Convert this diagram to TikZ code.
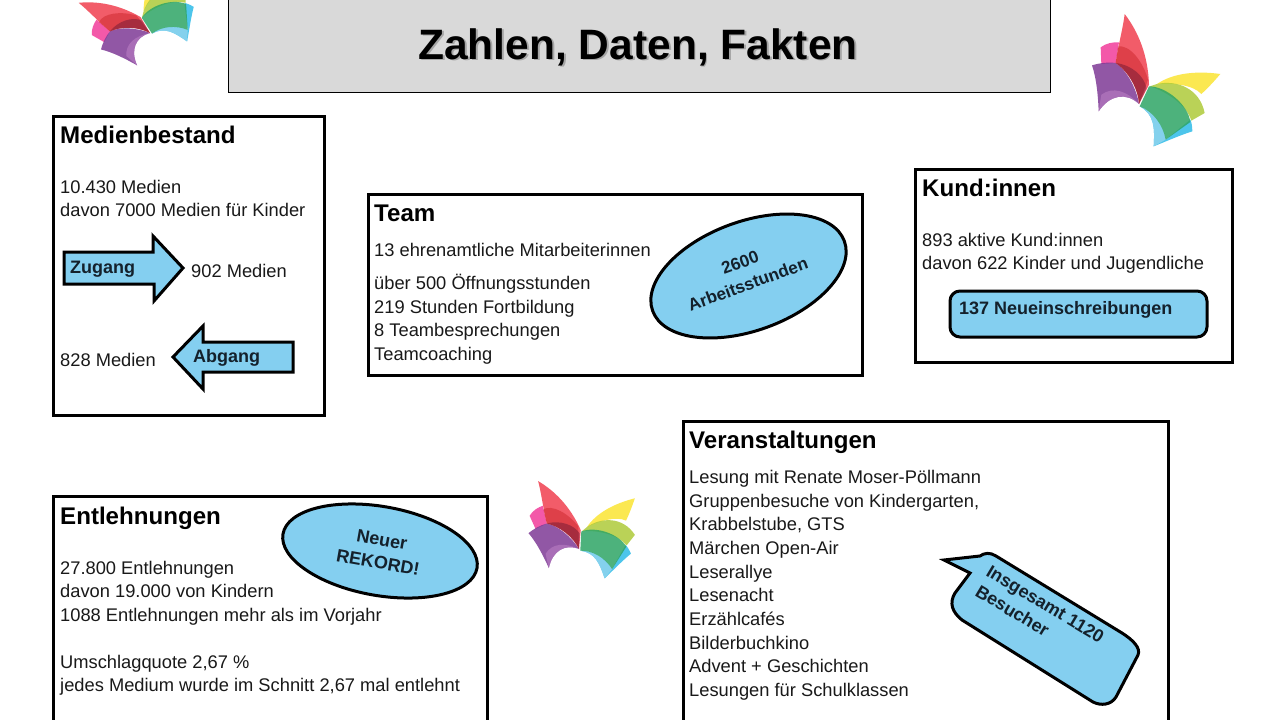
\documentclass[tikz,border=0pt]{standalone}
\usepackage{fontspec}
\setmainfont{Liberation Sans}
\usetikzlibrary{shapes.geometric}
\definecolor{skyfill}{HTML}{84CFF0}
\definecolor{inktext}{HTML}{14212C}
\definecolor{titlegray}{HTML}{D9D9D9}
\definecolor{wred}{HTML}{F0404F}
\definecolor{wpink}{HTML}{F23C9A}
\definecolor{wpurple}{HTML}{7E3A96}
\definecolor{wplum}{HTML}{B277BE}
\definecolor{wyellow}{HTML}{FBE533}
\definecolor{wolive}{HTML}{AFCB3A}
\definecolor{wgreen}{HTML}{2FA566}
\definecolor{wblue}{HTML}{2FBCE8}
\definecolor{wsky}{HTML}{8AD3EE}
\tikzset{
  panel/.style={draw=black,line width=3pt,fill=white},
  bluebox/.style={draw=black,line width=3pt,fill=skyfill,line join=round},
  body/.style={anchor=base west,inner sep=0pt,font=\fontsize{18.3}{22}\selectfont,text=black!90},
  heading/.style={anchor=base west,inner sep=0pt,font=\fontsize{24.1}{28}\bfseries\selectfont,text=black},
  badge/.style={inner sep=0pt,font=\fontsize{18}{23}\bfseries\selectfont,text=inktext},
  wing/.style={draw=none,fill opacity=0.85}
}
\newcommand{\bflypaths}{%
  \fill[wing,fill=wpink] (63,128) .. controls (80,115) and (100,112) .. (118,113) -- (108,175) -- (65,178) -- cycle;
  \fill[wing,fill=wpurple] (37,182) .. controls (60,175) and (85,172) .. (108,175) .. controls (140,195) and (170,250) .. (178,298) .. controls (140,262) and (90,270) .. (57,320) .. controls (55,270) and (50,220) .. (37,182) -- cycle;
  \fill[wing,fill=wred] (135,28) .. controls (175,80) and (205,150) .. (208,240) -- (178,298) .. controls (175,250) and (145,200) .. (108,175) .. controls (115,125) and (130,70) .. (135,28) -- cycle;
  \fill[fill=red!70!black,fill opacity=0.3] (115,125) .. controls (150,120) and (190,170) .. (205,225) -- (178,298) .. controls (175,250) and (145,200) .. (108,175) -- cycle;
  \fill[fill=black!70!violet,fill opacity=0.3] (108,175) .. controls (155,180) and (195,215) .. (200,250) -- (178,298) .. controls (175,250) and (145,200) .. (108,175) -- cycle;
  \fill[fill=wplum,fill opacity=0.75] (65,270) .. controls (100,245) and (140,258) .. (178,298) .. controls (140,262) and (90,270) .. (57,320) -- cycle;
  \fill[wing,fill=wyellow] (422,208) .. controls (350,198) and (280,205) .. (232,238) .. controls (280,235) and (340,240) .. (365,268) .. controls (385,250) and (405,228) .. (422,208) -- cycle;
  \fill[wing,fill=wolive] (232,238) .. controls (290,225) and (360,250) .. (375,325) -- (335,348) .. controls (320,300) and (260,260) .. (210,245) -- cycle;
  \fill[wing,fill=wblue] (180,305) .. controls (225,330) and (225,370) .. (222,425) .. controls (260,410) and (300,392) .. (338,380) .. controls (338,365) and (335,350) .. (332,345) -- (258,405) .. controls (250,360) and (220,320) .. (180,305) -- cycle;
  \fill[fill=wsky,fill opacity=0.9] (180,305) .. controls (225,330) and (225,370) .. (222,425) -- (258,405) .. controls (250,360) and (220,320) .. (180,305) -- cycle;
  \fill[wing,fill=wgreen] (208,245) .. controls (260,245) and (325,300) .. (332,352) -- (258,405) .. controls (250,360) and (220,320) .. (180,305) -- cycle;
}
\newcommand{\bfly}[3]{%
  \begin{scope}[shift={#1},rotate=#2,scale=#3/3]
    \begin{scope}[shift={(-178,-298)}]\bflypaths\end{scope}
  \end{scope}}
\begin{document}
\begin{tikzpicture}[x=1pt,y=-1pt]
\useasboundingbox (0,0) rectangle (1280,720);
\clip (0,0) rectangle (1280,720);
\fill[white] (0,0) rectangle (1280,720);

% title
\draw[fill=titlegray,draw=black,line width=1pt] (228.5,-3) rectangle (1050,92.5);
\node[inner sep=0pt,anchor=base,font=\fontsize{42.5}{48}\bfseries\selectfont] (title) at (638,59)
  {\rlap{\raisebox{-1.8pt}{\hspace{1.8pt}\color{black!35}Zahlen, Daten, Fakten}}Zahlen, Daten, Fakten};

% butterflies
\bfly{(150,33)}{58}{0.85}
\bfly{(1139,104)}{0}{1}
\bfly{(579,549)}{22}{0.87}

% panels
\draw[panel] (53,116) rectangle (324.5,415);
\draw[panel] (368,194) rectangle (862.5,375);
\draw[panel] (915,169) rectangle (1232,362);
\draw[panel] (53,496) rectangle (487,735);
\draw[panel] (683,421) rectangle (1168,735);

% Medienbestand
\node[heading] (mh) at (60,143) {Medienbestand};
\node[body] (m1) at (60,193) {10.430 Medien};
\node[body] (m2) at (60,216.5) {davon 7000 Medien für Kinder};
\draw[bluebox,line join=miter] (64,252) -- (153,252) -- (153,236) -- (183,268) -- (154,301) -- (154,284) -- (64,284) -- cycle;
\node[badge,anchor=base west] (zug) at (70,273) {Zugang};
\node[body] (m3) at (191,277) {902 Medien};
\draw[bluebox,line join=miter] (293,342) -- (203,342) -- (203,326) -- (173,357) -- (203,389) -- (203,372) -- (293,372) -- cycle;
\node[badge,anchor=base west] (abg) at (193,362) {Abgang};
\node[body] (m4) at (60,366) {828 Medien};

% Team
\node[heading] (th) at (374,221) {Team};
\node[body] (t1) at (374,256) {13 ehrenamtliche Mitarbeiterinnen};
\node[body] (t2) at (374,289.5) {über 500 Öffnungsstunden};
\node[body] (t3) at (374,313) {219 Stunden Fortbildung};
\node[body] (t4) at (374,336) {8 Teambesprechungen};
\node[body] (t5) at (374,360) {Teamcoaching};
\node[draw=black,line width=3pt,fill=skyfill,ellipse,inner sep=0pt,minimum width=204pt,minimum height=109pt,rotate=20] (tell) at (748.5,276) {};
\node[badge,font=\fontsize{17.2}{23}\bfseries\selectfont,rotate=20,align=center] (ttxt) at (744,273.5) {2600\\Arbeitsstunden};

% Kund:innen
\node[heading] (kh) at (922,196) {Kund:innen};
\node[body] (k1) at (922,246.5) {893 aktive Kund:innen};
\node[body] (k2) at (922,269.5) {davon 622 Kinder und Jugendliche};
\draw[bluebox,rounded corners=10pt] (950,291) rectangle (1207,337);
\node[badge,anchor=base west] (kneu) at (959,314) {137 Neueinschreibungen};

% Entlehnungen
\node[heading] (eh) at (60,524) {Entlehnungen};
\node[body] (e1) at (60,574) {27.800 Entlehnungen};
\node[body] (e2) at (60,597.5) {davon 19.000 von Kindern};
\node[body] (e3) at (60,621) {1088 Entlehnungen mehr als im Vorjahr};
\node[body] (e4) at (60,668) {Umschlagquote 2,67 \%};
\node[body] (e5) at (60,691.5) {jedes Medium wurde im Schnitt 2,67 mal entlehnt};
\node[badge,draw=black,line width=3pt,fill=skyfill,ellipse,minimum width=197pt,minimum height=89pt,rotate=-10,align=center] (rek) at (380,551) {Neuer\\REKORD!};

% Veranstaltungen
\node[heading] (vh) at (689,448) {Veranstaltungen};
\node[body] (v1) at (689,483.5) {Lesung mit Renate Moser-Pöllmann};
\node[body] (v2) at (689,507) {Gruppenbesuche von Kindergarten,};
\node[body] (v3) at (689,530.5) {Krabbelstube, GTS};
\node[body] (v4) at (689,554.5) {Märchen Open-Air};
\node[body] (v5) at (689,578) {Leserallye};
\node[body] (v6) at (689,601.5) {Lesenacht};
\node[body] (v7) at (689,625.5) {Erzählcafés};
\node[body] (v8) at (689,649) {Bilderbuchkino};
\node[body] (v9) at (689,672.5) {Advent + Geschichten};
\node[body] (v10) at (689,696) {Lesungen für Schulklassen};

% callout
\draw[bluebox,line join=miter] (944,560) -- (980,556) .. controls (984,553) and (990,552) .. (996,556) -- (1122,633) .. controls (1133,640) and (1141,648) .. (1138,655) -- (1116,697) .. controls (1111,705) and (1101,706) .. (1093,702) -- (962,620) .. controls (952,612) and (949,603) .. (955,593) -- (970,573) -- cycle;
\node[badge,anchor=base west,rotate=-31] (cal1) at (985,575) {Insgesamt 1120};
\node[badge,anchor=base west,rotate=-31] (cal2) at (974,595) {Besucher};
\end{tikzpicture}
\end{document}
